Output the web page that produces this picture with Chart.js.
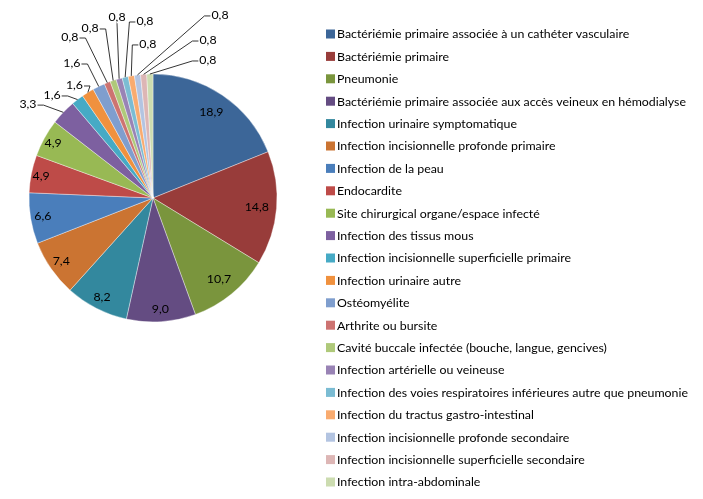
<!DOCTYPE html>
<html>
<head>
<meta charset="utf-8">
<script src="https://cdn.jsdelivr.net/npm/chart.js@4.4.1/dist/chart.umd.min.js"></script>
<style>
  html, body { margin: 0; padding: 0; background: #fff; }
  #wrap { width: 703px; height: 499px; position: relative; }
</style>
</head>
<body>
<div id="wrap"><canvas id="myChart"></canvas></div>
<script>
// infection types, in the order of the pie (clockwise from the top)
const categories = [
  "Bactériémie primaire associée à un cathéter vasculaire",
  "Bactériémie primaire",
  "Pneumonie",
  "Bactériémie primaire associée aux accès veineux en hémodialyse",
  "Infection urinaire symptomatique",
  "Infection incisionnelle profonde primaire",
  "Infection de la peau",
  "Endocardite",
  "Site chirurgical organe/espace infecté",
  "Infection des tissus mous",
  "Infection incisionnelle superficielle primaire",
  "Infection urinaire autre",
  "Ostéomyélite",
  "Arthrite ou bursite",
  "Cavité buccale infectée (bouche, langue, gencives)",
  "Infection artérielle ou veineuse",
  "Infection des voies respiratoires inférieures autre que pneumonie",
  "Infection du tractus gastro-intestinal",
  "Infection incisionnelle profonde secondaire",
  "Infection incisionnelle superficielle secondaire",
  "Infection intra-abdominale"
];

// percentages
const shares = [18.9, 14.8, 10.7, 9.0, 8.2, 7.4, 6.6, 4.9, 4.9, 3.3,
                1.6, 1.6, 1.6, 0.8, 0.8, 0.8, 0.8, 0.8, 0.8, 0.8, 0.8];

const valueLabels = shares.map(v => v.toFixed(1).replace('.', ','));

const colours = [
  '#3c6698', '#983c3a', '#7a953d', '#644c82', '#33889e', '#cb7432', '#4a7ebb',
  '#be4b48', '#98b954', '#7d60a0', '#46aac5', '#f0913e', '#7f9ece', '#cd7371',
  '#afc97a', '#9983b5', '#7bbcd3', '#f9ab6f', '#b3c4e1', '#ddb6b5', '#ccdcb0'
];

// slices drawn with their value inside
const insideCount = 9;

// where the small slices put their value: [angle clockwise from top in deg, distance / radius]
const callouts = {
  9: [306.9, 1.261], 10: [315.6, 1.163], 11: [325.2, 1.110], 12: [329.0, 1.270],
  13: [332.7, 1.461], 14: [339.7, 1.462], 15: [348.75, 1.488], 16: [357.4, 1.429],
  17: [358.1, 1.243], 18: [20.1, 1.572], 19: [19.2, 1.349], 20: [21.7, 1.198]
};

// fit the font so the long legend entry has the width it has in the original
const probe = document.createElement('canvas').getContext('2d');
probe.font = '12px Lato';
const fontSize = 12 * 349 / probe.measureText(categories[3]).width;
const fontStr = fontSize.toFixed(2) + 'px Lato';
const textColour = '#000';

const labelsPlugin = {
  id: 'sliceLabels',
  afterDatasetsDraw(chart) {
    const ctx = chart.ctx;
    const arcs = chart.getDatasetMeta(0).data;
    ctx.save();
    ctx.font = fontStr;
    ctx.fillStyle = textColour;
    ctx.strokeStyle = '#000';
    ctx.lineWidth = 0.8;
    ctx.textAlign = 'center';
    ctx.textBaseline = 'middle';
    arcs.forEach((arc, i) => {
      const p = arc.getProps(['x', 'y', 'startAngle', 'endAngle', 'outerRadius'], true);
      const mid = (p.startAngle + p.endAngle) / 2;
      const r = p.outerRadius;
      const txt = valueLabels[i];
      if (i < insideCount) {
        // big slices keep the value a bit further in
        const d = r * (shares[i] >= 10 ? 0.84 : (shares[i] < 5 ? 0.92 : 0.9));
        ctx.fillText(txt, p.x + Math.cos(mid) * d, p.y + Math.sin(mid) * d);
        return;
      }
      const c = callouts[i];
      const a = (c[0] - 90) * Math.PI / 180;
      const lx = p.x + Math.cos(a) * c[1] * r;
      const ly = p.y + Math.sin(a) * c[1] * r;
      const ax = p.x + Math.cos(mid) * r;
      const ay = p.y + Math.sin(mid) * r;
      const w = ctx.measureText(txt).width;
      ctx.beginPath();
      if (lx + w / 2 < ax - 2) {
        ctx.moveTo(lx + w / 2 + 1, ly + 1);
        ctx.lineTo(lx + w / 2 + 7, ly + 1);
      } else if (lx - w / 2 > ax + 2) {
        ctx.moveTo(lx - w / 2 - 1, ly + 1);
        ctx.lineTo(lx - w / 2 - 7, ly + 1);
      } else {
        ctx.moveTo(lx, ly + fontSize / 2);
      }
      ctx.lineTo(ax, ay);
      ctx.stroke();
      ctx.fillText(txt, lx, ly);
    });
    ctx.restore();
  }
};

const legendPlugin = {
  id: 'sideLegend',
  afterDraw(chart) {
    const ctx = chart.ctx;
    const ds = chart.data.datasets[0];
    const x0 = 326, y0 = 34, step = 22.4, box = 9;
    ctx.save();
    ctx.font = fontStr;
    ctx.textBaseline = 'middle';
    ctx.textAlign = 'left';
    chart.data.labels.forEach((lab, i) => {
      const y = y0 + i * step;
      ctx.fillStyle = ds.backgroundColor[i];
      ctx.fillRect(x0, y - box / 2, box, box);
      ctx.fillStyle = textColour;
      ctx.fillText(lab, x0 + 11, y + 0.5);
    });
    ctx.restore();
  }
};

const chart = () => {
  var canvas = document.getElementById('myChart');
  var ctx = canvas.getContext('2d');
  new Chart(ctx, {
    type: 'pie',
    data: {
      labels: categories,
      datasets: [{
        data: shares,
        backgroundColor: colours,
        borderColor: 'rgba(255,255,255,0.55)',
        borderWidth: 0.7,
        radius: 124
      }]
    },
    options: {
      responsive: true,
      maintainAspectRatio: false,
      animation: false,
      layout: { padding: { left: 0, right: 397, top: 0, bottom: 103 } },
      plugins: {
        legend: { display: false },
        tooltip: { enabled: false }
      }
    },
    plugins: [labelsPlugin, legendPlugin]
  });
};
window.onload = chart;
</script>
</body>
</html>
